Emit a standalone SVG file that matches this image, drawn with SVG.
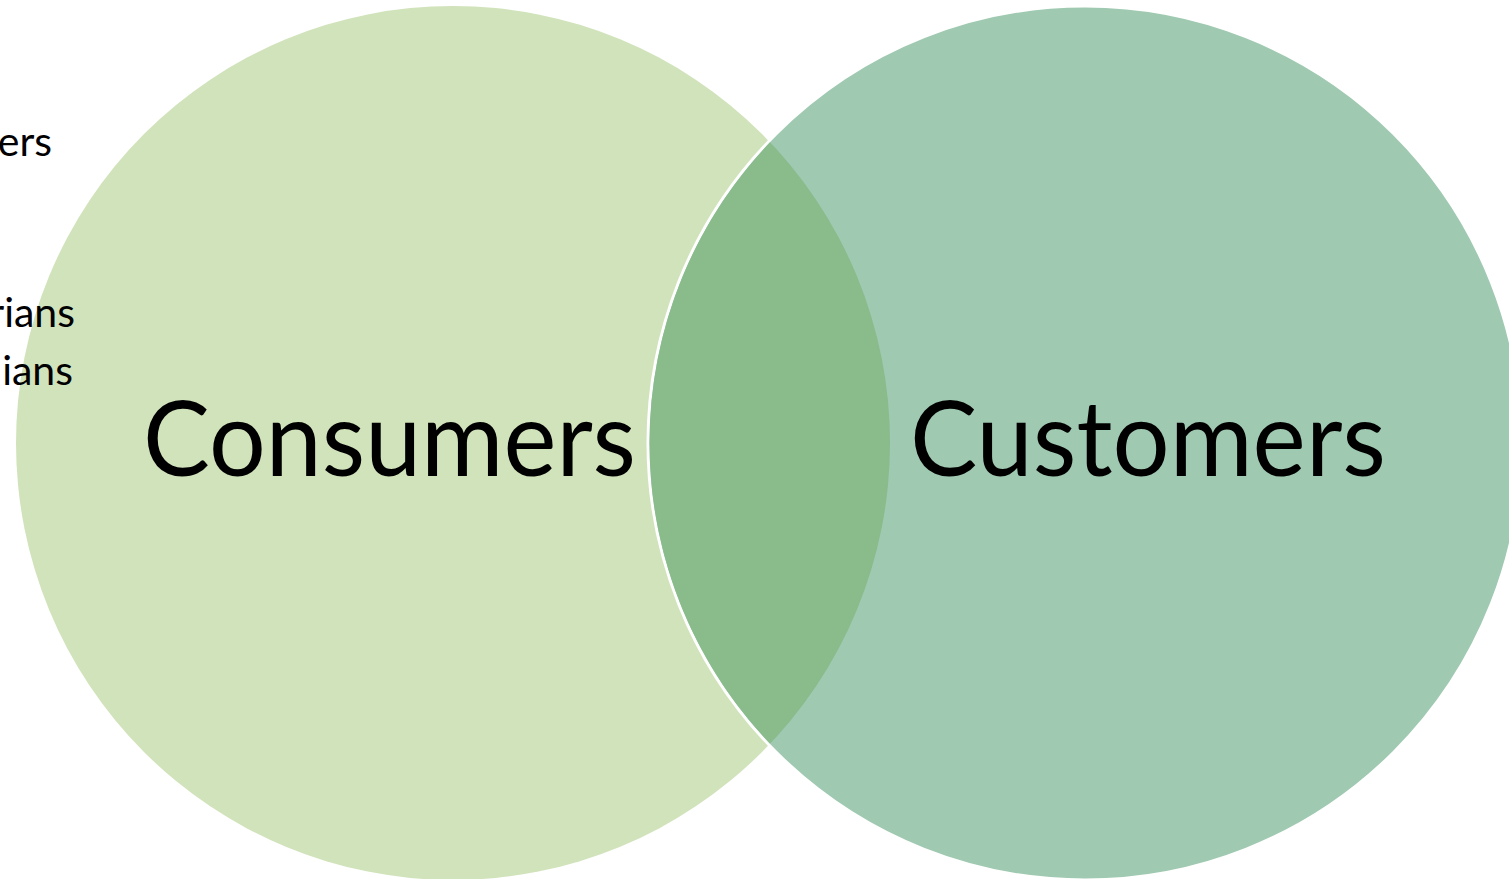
<svg xmlns="http://www.w3.org/2000/svg" width="1509" height="879" viewBox="0 0 1509 879">
<style>
.side{font-family:Lato,"Open Sans","Liberation Sans",sans-serif;font-size:41px;fill:#000;text-anchor:end}
.big{font-family:Lato,"Open Sans","Liberation Sans",sans-serif;font-size:104px;fill:#000}
</style>
<defs>
<clipPath id="clipLeft"><circle cx="453" cy="443" r="437"/></clipPath>
</defs>
<rect width="1509" height="879" fill="#ffffff"/>
<g id="consumers">
<circle cx="453" cy="443" r="437" fill="#d1e3bb"/>
</g>
<g id="customers">
<circle cx="1085" cy="443" r="437" fill="#9fc9b0" stroke="#ffffff" stroke-width="3"/>
</g>
<g id="overlap">
<circle cx="1085" cy="443" r="435.5" fill="#89bb8b" clip-path="url(#clipLeft)"/>
</g>
<g id="side-text">
<text class="side" x="52" y="156">ers</text>
<text class="side" x="75" y="327">rians</text>
<text class="side" x="73" y="385">ians</text>
</g>
<g id="labels">
<text class="big" x="143" y="476" textLength="493" lengthAdjust="spacingAndGlyphs">Consumers</text>
<text class="big" x="910" y="476" textLength="476" lengthAdjust="spacingAndGlyphs">Customers</text>
</g>
<g id="connectors"></g>
</svg>
